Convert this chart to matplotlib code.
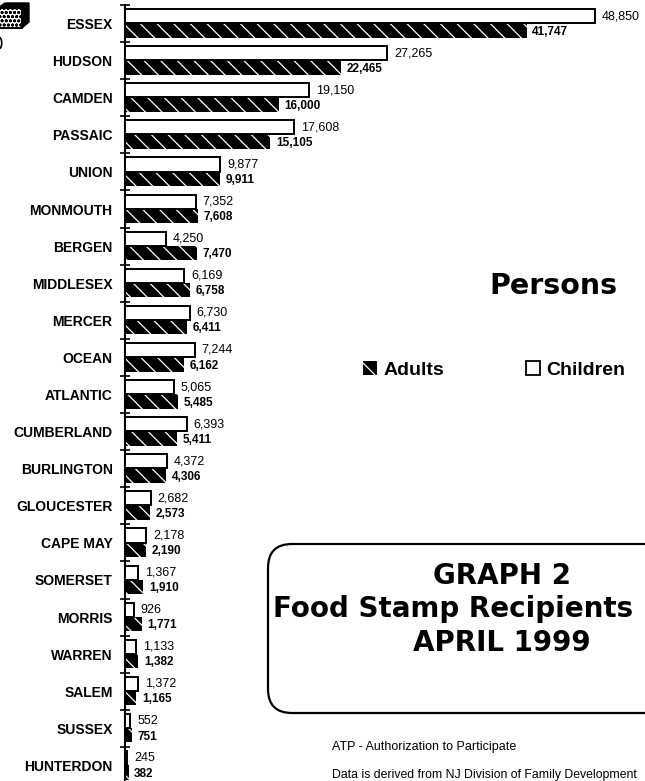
import matplotlib
matplotlib.use('Agg')
import matplotlib.pyplot as plt
from matplotlib.patches import Patch, FancyBboxPatch, Rectangle, Polygon

# ---- data ----
counties = ['ESSEX', 'HUDSON', 'CAMDEN', 'PASSAIC', 'UNION', 'MONMOUTH', 'BERGEN',
            'MIDDLESEX', 'MERCER', 'OCEAN', 'ATLANTIC', 'CUMBERLAND', 'BURLINGTON',
            'GLOUCESTER', 'CAPE MAY', 'SOMERSET', 'MORRIS', 'WARREN', 'SALEM',
            'SUSSEX', 'HUNTERDON']
children = [48850, 27265, 19150, 17608, 9877, 7352, 4250, 6169, 6730, 7244, 5065,
            6393, 4372, 2682, 2178, 1367, 926, 1133, 1372, 552, 245]
adults = [41747, 22465, 16000, 15105, 9911, 7608, 7470, 6758, 6411, 6162, 5485,
          5411, 4306, 2573, 2190, 1910, 1771, 1382, 1165, 751, 382]

W, H = 645, 781

plt.rcParams['font.family'] = ['Liberation Sans', 'DejaVu Sans']
plt.rcParams['hatch.color'] = 'white'
plt.rcParams['hatch.linewidth'] = 0.9

fig = plt.figure(figsize=(W / 100, H / 100), dpi=100)

# main chart axes (bottom slot runs a little past the page edge)
ax = fig.add_axes([125 / W, -3 / H, 520 / W, 779 / H])
y = list(range(len(counties)))

ax.barh([i - 0.2 for i in y], children, height=0.38, facecolor='white',
        edgecolor='black', linewidth=1.4, zorder=3)
ax.barh([i + 0.185 for i in y], adults, height=0.39, facecolor='black',
        hatch='\\\\', linewidth=0, zorder=2)

for i in y:
    ax.annotate(f'{children[i]:,}', (children[i], i - 0.2), xytext=(5, 0),
                textcoords='offset points', va='center', ha='left', fontsize=9)
    ax.annotate(f'{adults[i]:,}', (adults[i], i + 0.22), xytext=(4, 0),
                textcoords='offset points', va='center', ha='left', fontsize=8.5,
                fontweight='bold')

ax.set_xlim(0, 54050)
ax.set_ylim(len(counties) - 0.5, -0.5)
for s in ['top', 'right', 'bottom']:
    ax.spines[s].set_visible(False)
ax.spines['left'].set_linewidth(1.5)
ax.set_xticks([])
ax.set_yticks([i - 0.5 for i in range(len(counties) + 1)])
ax.set_yticklabels([])
ax.set_yticks(y, labels=counties, minor=True)
ax.tick_params(axis='y', which='major', direction='inout', length=7, width=1.2)
ax.tick_params(axis='y', which='minor', length=0, pad=9)
for lbl in ax.get_yticklabels(minor=True):
    lbl.set_fontweight('bold')
    lbl.set_fontsize(10)

# legend (hatch colour still white here)
adult_key = Patch(facecolor='black', hatch='\\', linewidth=0)
child_key = Patch(facecolor='white', edgecolor='black', linewidth=1.3)
leg = fig.legend(handles=[adult_key, child_key], labels=['Adults', 'Children'],
                 ncol=2, loc='center', bbox_to_anchor=(494 / W, 1 - 370 / H),
                 frameon=False, prop={'weight': 'bold', 'size': 14},
                 handlelength=0.75, handleheight=0.75, handletextpad=0.3,
                 columnspacing=4.2)

# overlay in pixel coordinates for the decorations
ov = fig.add_axes([0, 0, 1, 1])
ov.set_xlim(0, W)
ov.set_ylim(H, 0)
ov.axis('off')

# cut-off legend key at the top-left corner
plt.rcParams['hatch.color'] = 'black'
ov.add_patch(Rectangle((-2, 8), 24, 20, facecolor='white', edgecolor='black',
                       hatch='oooo', linewidth=1.5))
ov.add_patch(Polygon([[22, 8], [29, 3], [29, 22], [22, 28]], closed=True,
                     facecolor='black', edgecolor='black'))
ov.add_patch(Polygon([[-2, 8], [5, 3], [29, 3], [22, 8]], closed=True,
                     facecolor='black', edgecolor='black'))
ov.text(-1, 43, ')', ha='left', va='center', fontsize=9, fontweight='bold')

# title box
ov.add_patch(FancyBboxPatch((268, 544), 470, 169,
                            boxstyle='round,pad=0,rounding_size=24',
                            facecolor='none', edgecolor='black', linewidth=1.6))

fig.text(553 / W, 1 - 286 / H, 'Persons', ha='center', va='center',
         fontsize=20.5, fontweight='bold', family='DejaVu Sans')

fig.text(502 / W, 1 - 576 / H, 'GRAPH 2', ha='center', va='center',
         fontsize=20, fontweight='bold', family='DejaVu Sans')
fig.text(273 / W, 1 - 609 / H, 'Food Stamp Recipients', ha='left', va='center',
         fontsize=20, fontweight='bold', family='DejaVu Sans')
fig.text(502 / W, 1 - 643 / H, 'APRIL 1999', ha='center', va='center',
         fontsize=20, fontweight='bold', family='DejaVu Sans')

fig.text(332 / W, 1 - 747 / H, 'ATP - Authorization to Participate', ha='left',
         va='center', fontsize=9)
fig.text(332 / W, 1 - 775 / H, 'Data is derived from NJ Division of Family Development',
         ha='left', va='center', fontsize=8.8)

plt.savefig('out.png', dpi=100)
